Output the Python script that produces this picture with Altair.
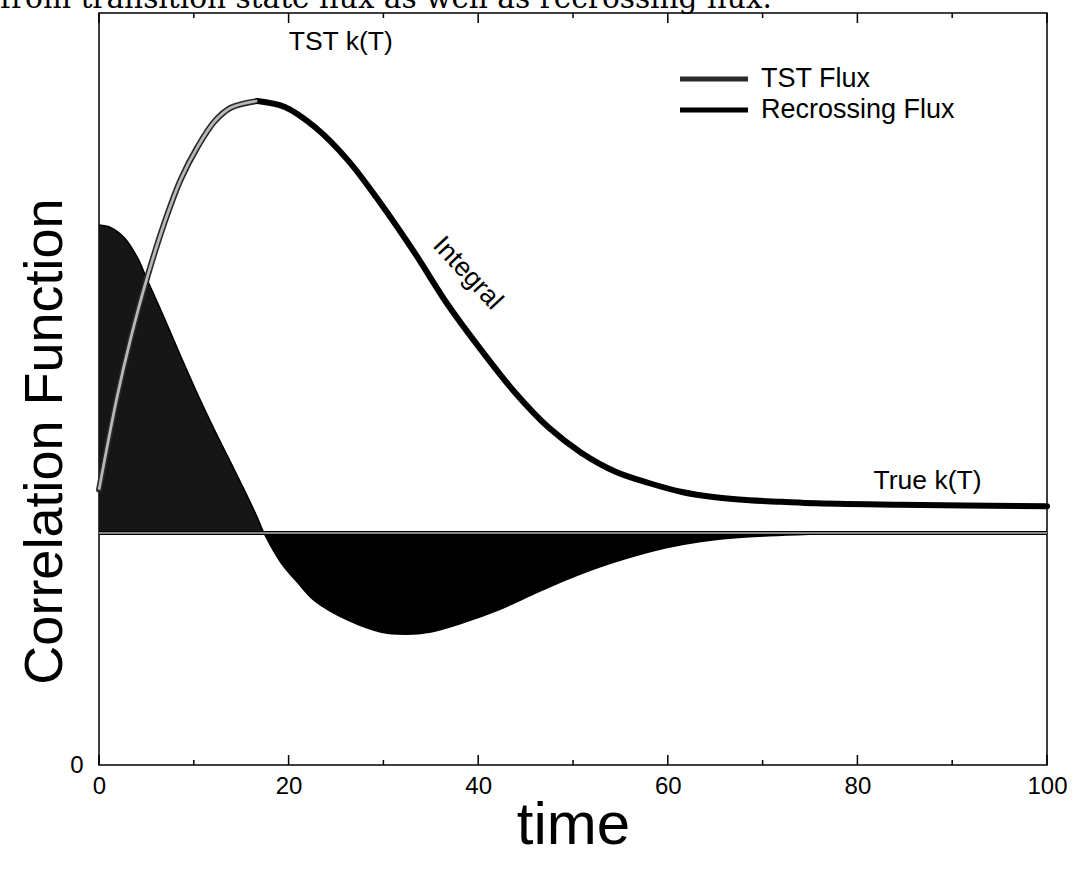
import altair as alt
import pandas as pd

# Flux-flux correlation function C(t) (chart units, drawn about the baseline)
corr_t = [0, 1.2, 2.6, 4.0, 5.1, 6.9, 8.6, 10.4, 12.2, 13.9, 15.7, 16.7, 17.4,
          19.2, 21.0, 22.7, 26.2, 29.7, 32.3, 35.0, 38.6, 42.1, 45.6, 49.2,
          52.7, 56.2, 59.8, 63.3, 66.8, 70.7, 75.0, 80.0, 90.0, 100.0]
corr_c = [71.8, 71.5, 70.2, 67.6, 64.5, 59.4, 54.4, 49.3, 44.5, 40.2, 35.6, 32.9, 30.85,
          26.9, 24.2, 21.9, 19.3, 17.7, 17.4, 17.7, 19.0, 20.6, 22.6, 24.6,
          26.3, 27.7, 28.9, 29.7, 30.2, 30.5, 30.7, 30.85, 30.85, 30.85]
baseline = 30.85

# Running integral of C(t): rising part (TST flux) and falling part (recrossing flux)
tst_t = [0, 1.9, 3.3, 5.1, 6.9, 8.6, 10.4, 12.2, 13.9, 16.7]
tst_v = [36.6, 48.9, 56.5, 64.9, 72.1, 77.8, 82.2, 85.6, 87.4, 88.3]
rec_t = [16.7, 19.6, 22.8, 26.2, 29.7, 33.3, 36.8, 40.3, 43.9, 47.4, 50.9, 54.5,
         58.0, 61.5, 65.0, 68.6, 72.0, 75.7, 84.4, 100.0]
rec_v = [88.3, 87.5, 84.8, 80.5, 74.7, 68.1, 61.2, 55.2, 49.5, 44.9, 41.5, 39.0,
         37.5, 36.3, 35.6, 35.2, 35.0, 34.8, 34.6, 34.4]

series_names = ["TST Flux", "Recrossing Flux"]
major_ticks = [0, 20, 40, 60, 80, 100]
minor_ticks = [10, 30, 50, 70, 90]

W, H = 948, 752
FONT = "Liberation Sans"
CURVE = "catmull-rom"

corr = pd.DataFrame({"t": corr_t, "v": corr_c})
corr["base"] = baseline
pos = corr[corr.t <= 17.4]
neg = corr[corr.t >= 17.4]

integral = pd.concat([
    pd.DataFrame({"t": tst_t, "v": tst_v, "series": series_names[0]}),
    pd.DataFrame({"t": rec_t, "v": rec_v, "series": series_names[1]}),
])
tst_only = integral[integral.series == series_names[0]]

x_scale = alt.Scale(domain=[0, 100], nice=False)
y_scale = alt.Scale(domain=[0, 100], nice=False)

x_enc = alt.X("t:Q", scale=x_scale, axis=alt.Axis(
    values=major_ticks, title="time", grid=False, ticks=False, domain=False,
    labelFont=FONT, labelFontSize=24, labelColor="black", labelPadding=9,
    labelFlush=False,
    titleFont=FONT, titleFontSize=60, titleFontWeight="normal", titleColor="black",
    titleY=60, titleBaseline="middle"))
y_enc = alt.Y("v:Q", scale=y_scale, axis=alt.Axis(
    values=[0], title="Correlation Function", grid=False, ticks=False, domain=False,
    labelFont=FONT, labelFontSize=24, labelColor="black", labelPadding=16,
    titleFont=FONT, titleFontSize=54, titleFontWeight="normal", titleColor="black",
    titleX=-54, titleY=428, titleAngle=-90, titleAlign="center",
    titleBaseline="middle"))

x_plain = alt.X("t:Q", scale=x_scale)
y_plain = alt.Y("v:Q", scale=y_scale)

# filled lobes of C(t) about the baseline
area_pos = alt.Chart(pos).mark_area(color="#161616", interpolate=CURVE).encode(
    x=x_enc, y=y_enc, y2="base:Q")
area_neg = alt.Chart(neg).mark_area(color="black", interpolate=CURVE).encode(
    x=x_plain, y=y_plain, y2="base:Q")
corr_line = alt.Chart(corr).mark_line(color="black", strokeWidth=1.5,
                                      interpolate=CURVE).encode(x=x_plain, y=y_plain)

# baseline drawn as a double stroke across the whole time range
base_df = pd.DataFrame({"t": [0], "t2": [100], "v": [baseline]})
base_outer = alt.Chart(base_df).mark_rule(color="black", strokeWidth=4).encode(
    x=x_plain, x2="t2:Q", y=y_plain)
base_inner = alt.Chart(base_df).mark_rule(color="#b5b5b5", strokeWidth=1.4).encode(
    x=x_plain, x2="t2:Q", y=y_plain)

# running integral with legend (long, flat stroke symbols in compact rows)
int_line = alt.Chart(integral).mark_line(strokeWidth=6, interpolate=CURVE,
                                         strokeCap="round").encode(
    x=x_plain, y=y_plain,
    color=alt.Color("series:N",
                    scale=alt.Scale(domain=series_names, range=["#2a2a2a", "black"]),
                    sort=series_names,
                    legend=alt.Legend(
                        title=None, orient="none", legendX=601, legendY=52,
                        symbolType="M-3,0H3", symbolSize=514, symbolStrokeWidth=5,
                        labelFont=FONT, labelFontSize=27, labelColor="black",
                        labelLimit=0, labelOffset=33, rowPadding=4, padding=0)))
tst_inner = alt.Chart(tst_only).mark_line(color="#b8b8b8", strokeWidth=2.8,
                                          interpolate=CURVE).encode(
    x=x_plain, y=y_plain)

# annotations
def note(text, t, v, angle=0, align="center"):
    df = pd.DataFrame({"t": [t], "v": [v], "label": [text]})
    return alt.Chart(df).mark_text(font=FONT, fontSize=26.5, color="black",
                                   angle=angle, align=align, baseline="middle").encode(
        x=x_plain, y=y_plain, text="label:N")

notes = [
    note("TST k(T)", 25.5, 96.1),
    note("Integral", 38.9, 65.4, angle=47),
    note("True k(T)", 87.4, 37.8),
]

# inward tick marks on the bottom and top of the frame
ticks_major = pd.DataFrame({"t": major_ticks})
ticks_minor = pd.DataFrame({"t": minor_ticks})
tick_layers = []
for df, ln in [(ticks_major, 10), (ticks_minor, 5)]:
    tick_layers.append(alt.Chart(df).mark_rule(color="black", strokeWidth=1.5).encode(
        x=x_plain, y=alt.value(H), y2=alt.value(H - ln)))
    tick_layers.append(alt.Chart(df).mark_rule(color="black", strokeWidth=1.5).encode(
        x=x_plain, y=alt.value(0), y2=alt.value(ln)))

# running text line of the page above the figure
header = alt.Chart(pd.DataFrame({"s": ["from transition state flux as well as recrossing flux."]})
                   ).mark_text(font="DejaVu Serif", fontSize=29.6, color="black",
                               align="left", baseline="alphabetic").encode(
    x=alt.value(-99), y=alt.value(-5), text="s:N")

chart = alt.layer(area_pos, area_neg, corr_line, base_outer, base_inner,
                  int_line, tst_inner, *notes, *tick_layers, header).properties(
    width=W, height=H,
    autosize=alt.AutoSizeParams(type="none"),
    padding={"left": 99, "top": 13, "right": 28, "bottom": 104},
    background="white",
).configure_view(stroke="black", strokeWidth=1.5)

chart.save("out.html", embed_options={"renderer": "svg", "actions": False})
